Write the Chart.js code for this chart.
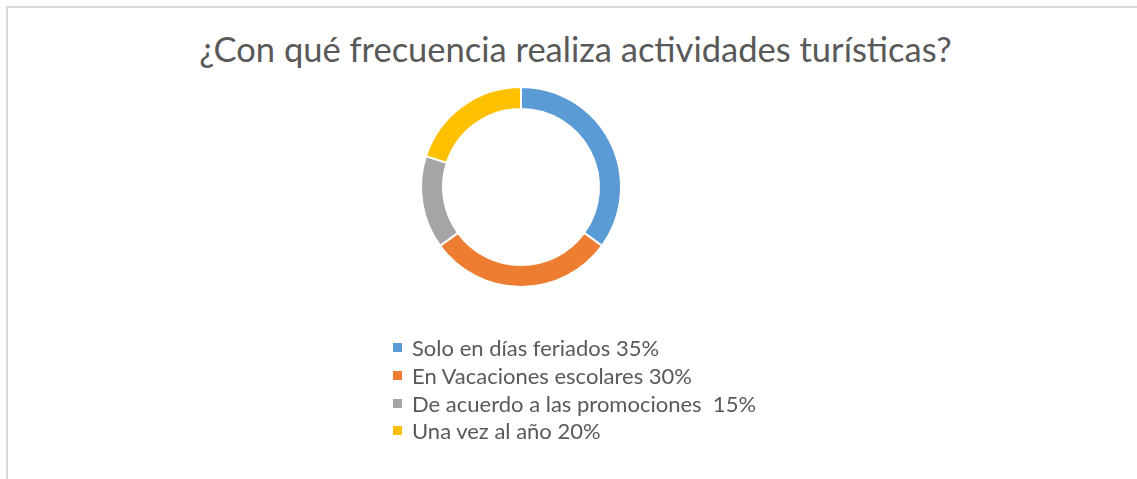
<!DOCTYPE html>
<html lang="es">
<head>
<meta charset="utf-8">
<script src="https://cdn.jsdelivr.net/npm/chart.js@4"></script>
<style>
  html, body { margin: 0; padding: 0; background: #fff; overflow: hidden; }
  body { width: 1137px; height: 479px; position: relative; font-family: Lato, "Open Sans", sans-serif; }
  #frame {
    position: absolute; left: 6px; top: 6px; width: 1200px; height: 600px;
    border-left: 2px solid #d9d9d9; border-top: 2px solid #d9d9d9;
  }
  #grafico { position: absolute; left: 0; top: 0; }
  #titulo {
    position: absolute; left: 0; top: 32px; width: 1151px;
    text-align: center; font-size: 34.5px; line-height: 34px; color: #595959;
    white-space: nowrap;
  }
  #leyenda {
    position: absolute; left: 393px; top: 334px; margin: 0; padding: 0;
    list-style: none; font-size: 22px; color: #595959;
  }
  #leyenda li { display: flex; align-items: center; height: 27.7px; white-space: pre; }
  #leyenda span.caja { display: inline-block; width: 9px; height: 9px; margin-right: 10px; }
</style>
</head>
<body>
<div id="frame"></div>
<div id="titulo">¿Con qué frecuencia realiza actividades turísticas?</div>
<canvas id="grafico" width="1137" height="479"></canvas>
<ul id="leyenda"></ul>
<script>
const categorias = [
  "Solo en días feriados 35%",
  "En Vacaciones escolares 30%",
  "De acuerdo a las promociones  15%",
  "Una vez al año 20%",
];
const porcentajes = [35, 30, 15, 20];
const colores = ["#5B9BD5", "#ED7D31", "#A5A5A5", "#FFC000"];

// leyenda en html, una fila por categoria
const htmlLegend = {
  id: "htmlLegend",
  afterUpdate(chart) {
    const ul = document.getElementById("leyenda");
    ul.innerHTML = "";
    const items = chart.options.plugins.legend.labels.generateLabels(chart);
    items.forEach((item) => {
      const li = document.createElement("li");
      const caja = document.createElement("span");
      caja.className = "caja";
      caja.style.background = item.fillStyle;
      li.appendChild(caja);
      li.appendChild(document.createTextNode(item.text));
      ul.appendChild(li);
    });
  },
};

const chartFrecuencia = document.getElementById("grafico");

const graficoFrecuencia = new Chart(chartFrecuencia, {
  type: "doughnut",
  data: {
    labels: categorias,
    datasets: [
      {
        data: porcentajes,
        backgroundColor: colores,
        borderColor: "#ffffff",
        borderWidth: 2,
      },
    ],
  },
  options: {
    responsive: false,
    animation: false,
    events: [],
    radius: 100,
    cutout: "78%",
    layout: {
      padding: { top: 87, bottom: 192, left: 421, right: 516 },
    },
    plugins: {
      legend: { display: false },
      title: { display: false },
      tooltip: { enabled: false },
    },
  },
  plugins: [htmlLegend],
});
</script>
</body>
</html>
